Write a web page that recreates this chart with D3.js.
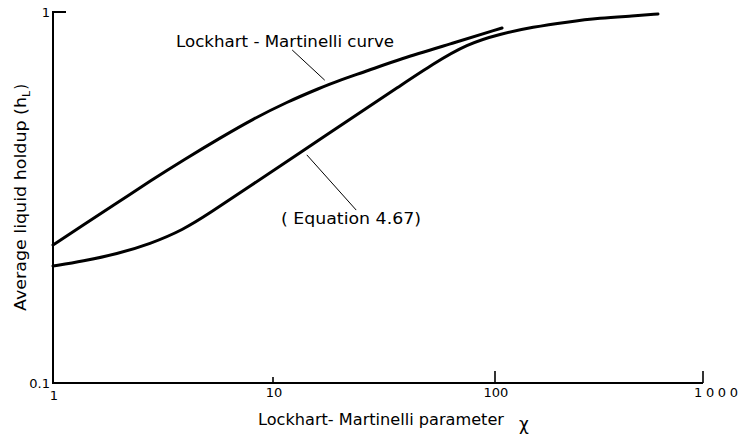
<!DOCTYPE html>
<html><head><meta charset="utf-8">
<script src="https://cdn.jsdelivr.net/npm/d3@7"></script>
<style>body{margin:0;background:#fff}svg{display:block}</style>
</head><body><svg id="c" width="745" height="439"></svg>
<script>
// ---- data ----
const xTickValues = [1, 10, 100, 1000];
const xTickLabels = ["1", "10", "100", "1000"];
const yTickValues = [0.1, 1];
const yTickLabels = ["0.1", "1"];

// Lockhart–Martinelli curve
const lmX = [1, 1.369, 1.954, 2.760, 3.981, 5.741, 8.111, 11.56, 16.28, 20.04, 26.51, 37.34, 62.70, 108.1];
const lmY = [0.2355, 0.2666, 0.3056, 0.3503, 0.4015, 0.4574, 0.5148, 0.5720, 0.6240, 0.6556, 0.6934, 0.7468, 0.8197, 0.9054];

// Equation 4.67 curve
const eqX = [1, 1.369, 1.954, 2.760, 3.899, 5.172, 7.863, 13.23, 22.23, 37.34, 52.56, 74.79, 105.7, 152.3, 221.9, 319.7, 460.8, 607.7];
const eqY = [0.2067, 0.2132, 0.2227, 0.2370, 0.2585, 0.2872, 0.3396, 0.4169, 0.5148, 0.6318, 0.7243, 0.8197, 0.8723, 0.9112, 0.9398, 0.9634, 0.9755, 0.9876];

const lmLabel = "Lockhart - Martinelli curve";
const eqLabel = "( Equation 4.67)";
const xTitle = "Lockhart- Martinelli parameter";
const xSymbol = "\u03c7";
const yTitle = "Average liquid holdup (h";
const ySub = "L";

// ---- drawing ----
const svg = d3.select("#c");
const font = "'DejaVu Sans', sans-serif";

const x = d3.scaleLog().domain([1, 10, 100, 1000]).range([53, 273, 495, 703]);
const y = d3.scaleLog().domain([0.1, 1]).range([383, 12]);

// axes lines
svg.append("path")
  .attr("d", `M${x(1) + 13},${y(1)}H${x(1)}V${y(0.1)}H${x(1000)}`)
  .attr("fill", "none").attr("stroke", "#000").attr("stroke-width", 2);

// x ticks (inward)
const tickLen = d => d === 10 ? 6 : 12;
svg.selectAll(".xt").data(xTickValues.slice(1)).join("line")
  .attr("x1", d => x(d)).attr("x2", d => x(d))
  .attr("y1", y(0.1)).attr("y2", d => y(0.1) - tickLen(d))
  .attr("stroke", "#000").attr("stroke-width", 1.6);

// x tick labels
svg.selectAll(".xl").data(xTickValues).join("text")
  .attr("x", d => d === 1000 ? x(d) - 9 : x(d) + 1)
  .attr("y", d => d === 1 ? 400 : 397)
  .attr("text-anchor", d => d === 1000 ? "start" : "middle")
  .attr("font-family", font).attr("font-size", 13)
  .attr("textLength", d => d === 1000 ? 44 : null)
  .attr("lengthAdjust", "spacing")
  .text((d, i) => xTickLabels[i]);

// y tick labels
svg.selectAll(".yl").data(yTickValues).join("text")
  .attr("x", 50)
  .attr("y", d => y(d) + 5)
  .attr("text-anchor", "end")
  .attr("font-family", font).attr("font-size", 13)
  .text((d, i) => yTickLabels[i]);

// curves
const line = d3.line().x(d => x(d[0])).y(d => y(d[1])).curve(d3.curveBasis);
svg.append("path").datum(lmX.map((v, i) => [v, lmY[i]]))
  .attr("d", line).attr("fill", "none").attr("stroke", "#000").attr("stroke-width", 3).attr("stroke-linecap", "round");
svg.append("path").datum(eqX.map((v, i) => [v, eqY[i]]))
  .attr("d", line).attr("fill", "none").attr("stroke", "#000").attr("stroke-width", 3).attr("stroke-linecap", "round");

// leader lines
svg.append("line").attr("x1", x(12.2)).attr("y1", y(0.79)).attr("x2", x(17.1)).attr("y2", y(0.655))
  .attr("stroke", "#000").attr("stroke-width", 1);
svg.append("line").attr("x1", x(14.2)).attr("y1", y(0.412)).attr("x2", x(23.7)).attr("y2", y(0.2925))
  .attr("stroke", "#000").attr("stroke-width", 1);

// annotations
svg.append("text").attr("x", 176).attr("y", 47).attr("font-family", font).attr("font-size", 15)
  .attr("textLength", 218).attr("lengthAdjust", "spacingAndGlyphs").text(lmLabel);
svg.append("text").attr("x", 281).attr("y", 224).attr("font-family", font).attr("font-size", 15)
  .attr("textLength", 140).attr("lengthAdjust", "spacingAndGlyphs").text(eqLabel);

// axis titles
svg.append("text").attr("x", 258).attr("y", 425).attr("font-family", font).attr("font-size", 15)
  .attr("textLength", 246).attr("lengthAdjust", "spacingAndGlyphs").text(xTitle);
svg.append("text").attr("x", 519).attr("y", 430).attr("font-family", font).attr("font-size", 17).text(xSymbol);

const yt = svg.append("text").attr("transform", "translate(26,311) rotate(-90)")
  .attr("font-family", font).attr("font-size", 15);
yt.append("tspan").attr("textLength", 214).attr("lengthAdjust", "spacingAndGlyphs").text(yTitle);
yt.append("tspan").attr("font-size", 11).attr("dy", 4).text(ySub);
yt.append("tspan").attr("dy", -4).attr("dx", 1).text(")");
</script>
</body></html>
